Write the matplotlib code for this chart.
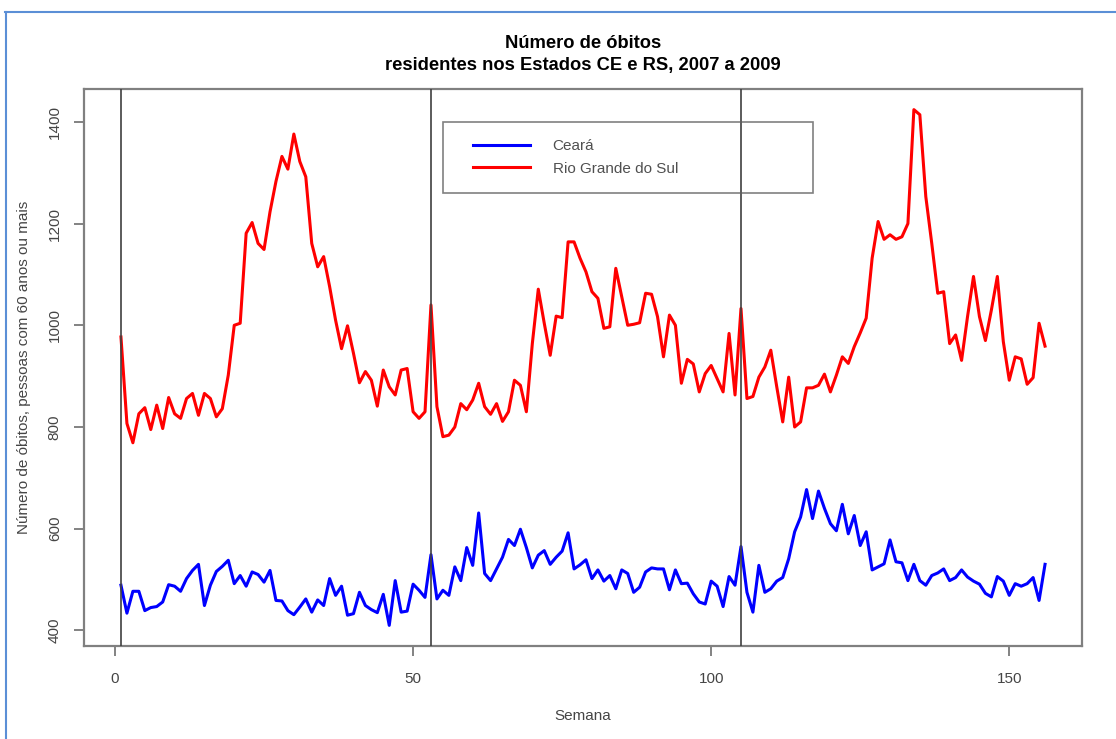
import matplotlib.pyplot as plt
import numpy as np
from matplotlib.lines import Line2D
from matplotlib.legend_handler import HandlerLine2D

# weekly deaths, people aged 60+, weeks 1..156 (2007-2009)
weeks = np.arange(1, 157)

rio_grande_do_sul = [
    977, 807, 769, 826, 838, 795, 843, 797, 858, 826,
    817, 856, 866, 823, 866, 856, 820, 836, 902, 1000,
    1004, 1181, 1202, 1161, 1149, 1223, 1283, 1332, 1307, 1376,
    1322, 1292, 1161, 1115, 1135, 1076, 1010, 954, 999, 945,
    887, 909, 892, 841, 912, 879, 863, 912, 915, 830,
    817, 830, 1040, 840, 781, 784, 800, 846, 834, 853,
    886, 840, 825, 846, 811, 830, 892, 882, 830, 964,
    1071, 1004, 941, 1018, 1015, 1164, 1164, 1132, 1105, 1066,
    1053, 994, 997, 1112, 1056, 1000, 1002, 1005, 1063, 1061,
    1017, 938, 1020, 1000, 886, 933, 924, 869, 905, 921,
    895, 869, 984, 863, 1033, 856, 860, 898, 918, 951,
    879, 810, 898, 800, 810, 877, 877, 882, 904, 869,
    902, 938, 925, 958, 985, 1014, 1132, 1204, 1169, 1178,
    1169, 1174, 1200, 1424, 1414, 1253, 1161, 1063, 1066, 964,
    981, 931, 1017, 1096, 1017, 970, 1030, 1096, 968, 892,
    938, 934, 884, 897, 1004, 959,
]

ceara = [
    489, 434, 477, 477, 439, 445, 447, 456, 490, 487,
    477, 502, 518, 530, 449, 489, 516, 526, 538, 492,
    508, 487, 515, 510, 495, 518, 459, 458, 439, 431,
    446, 462, 436, 460, 449, 502, 469, 487, 430, 433,
    475, 449, 441, 435, 471, 410, 498, 436, 438, 491,
    479, 465, 549, 462, 479, 469, 525, 498, 563, 528,
    631, 512, 498, 521, 544, 579, 567, 599, 563, 523,
    548, 557, 530, 544, 556, 592, 521, 529, 539, 502,
    519, 497, 508, 482, 519, 512, 475, 485, 515, 523,
    521, 521, 480, 519, 492, 493, 472, 456, 452, 497,
    487, 447, 506, 489, 565, 475, 436, 528, 475, 482,
    497, 504, 541, 594, 623, 677, 620, 674, 640, 610,
    596, 648, 590, 626, 567, 594, 519, 525, 531, 578,
    535, 533, 498, 530, 498, 489, 508, 513, 521, 498,
    504, 519, 505, 497, 491, 473, 466, 506, 497, 469,
    492, 487, 492, 504, 459, 530,
]

year_starts = [1, 53, 105]
x_ticks = [0, 50, 100, 150]
y_ticks = [400, 600, 800, 1000, 1200, 1400]

FONT = ['Liberation Sans', 'DejaVu Sans']
TXT = '#454545'
plt.rcParams['font.family'] = FONT


def r_range(lo, hi):
    # R-style 4% axis extension
    d = (hi - lo) * 0.04
    return lo - d, hi + d


fig = plt.figure(figsize=(11.16, 7.39), dpi=100)
ax = fig.add_axes([84 / 1116, 1 - 646 / 739, 998 / 1116, 557 / 739])

ax.plot(weeks, ceara, color='#0000ff', lw=2.2, label='Ceará')
ax.plot(weeks, rio_grande_do_sul, color='#ff0000', lw=2.2, label='Rio Grande do Sul')
for w in year_starts:
    ax.axvline(w, color='#404040', lw=1.2, zorder=3)

ax.set_xlim(*r_range(weeks.min(), weeks.max()))
ax.set_ylim(*r_range(min(ceara + rio_grande_do_sul), max(ceara + rio_grande_do_sul)))

ax.set_xticks(x_ticks)
ax.set_yticks(y_ticks)
ax.tick_params(direction='out', length=7, width=1.1, color='#606060',
               labelsize=11, labelcolor=TXT)
ax.tick_params(axis='x', pad=12)
ax.tick_params(axis='y', pad=9)
for lab in ax.get_yticklabels():
    lab.set_rotation(90)
    lab.set_va('center')

for s in ax.spines.values():
    s.set_color('#808080')
    s.set_linewidth(1.6)

ax.set_xlabel('Semana', fontsize=11, color=TXT, labelpad=16)
ax.set_ylabel('Número de óbitos, pessoas com 60 anos ou mais', fontsize=11,
              color=TXT, labelpad=12)
ax.set_title('Número de óbitos\nresidentes nos Estados CE e RS, 2007 a 2009',
             fontsize=13.2, fontweight='bold', linespacing=1.35, pad=14)

leg = ax.legend(loc='upper left', bbox_to_anchor=(0.36, 0.813, 0.37, 0.128),
                mode='expand', borderaxespad=0, fontsize=11, frameon=True,
                fancybox=False, handlelength=4.5, handletextpad=1.5,
                borderpad=1.15, labelspacing=0.55,
                handler_map={Line2D: HandlerLine2D(xpad=0.78)})
leg.get_frame().set_edgecolor('#606060')
leg.get_frame().set_linewidth(1.2)
leg.get_frame().set_facecolor('none')
for t in leg.get_texts():
    t.set_color('#505050')

# blue frame of the original screenshot
fig.add_artist(Line2D([5 / 1116, 1], [1 - 12 / 739, 1 - 12 / 739],
                      transform=fig.transFigure, color='#5b8fd6', lw=1.5))
fig.add_artist(Line2D([6 / 1116, 6 / 1116], [0, 1 - 12 / 739],
                      transform=fig.transFigure, color='#5b8fd6', lw=1.5))

fig.savefig('out.png', dpi=100)
